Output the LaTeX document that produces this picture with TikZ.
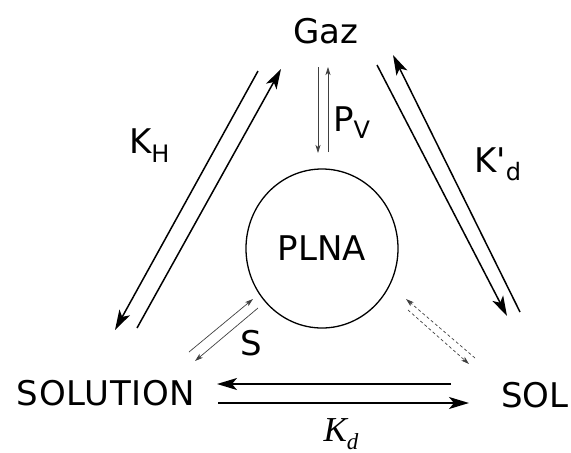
\documentclass[tikz,border=0pt]{standalone}
\usepackage{fontspec}
\newfontfamily\dejavu{DejaVu Sans}
\newfontfamily\kdfont{Liberation Serif}
\usetikzlibrary{arrows.meta,shapes.geometric}
\begin{document}
\begin{tikzpicture}[x=1pt,y=-1pt,
  big/.style={line width=1.5pt, -{Stealth[length=20pt,width=12pt,inset=5pt]}},
  smallarr/.style={line width=0.7pt, draw=black!75, -{Stealth[length=8pt,width=5pt,inset=2pt]}},
  dasharr/.style={smallarr, dash pattern=on 3pt off 2.5pt},
  lbl/.style={font=\dejavu\fontsize{34}{34}\selectfont, inner sep=0pt}]
\useasboundingbox (0,0) rectangle (571,453);
\newcommand{\mysub}[2]{\raisebox{-#1}{\fontsize{24}{24}\selectfont #2}}
% main nodes
\node[lbl, anchor=base] (gaz) at (326,43) {Gaz};
\node[lbl, anchor=base] (solution) at (106,405) {\addfontfeature{LetterSpace=2}SOLUTION};
\node[lbl, anchor=base] (sol) at (535,407) {SOL};
\node[draw, ellipse, line width=1.3pt, minimum width=152pt, minimum height=159pt,
      font=\dejavu\fontsize{34}{34}\selectfont, inner sep=0pt] (plna) at (322,248.5) {PLNA};
% labels
\node[lbl, anchor=base west] (kh) at (129,153) {K\mysub{9pt}{H}};
\node[lbl, anchor=base west] (pv) at (333,131) {P\mysub{7pt}{V}};
\node[lbl, anchor=base west] (kpd) at (474,172) {K'\mysub{8pt}{d}};
\node[lbl, anchor=base west] (s) at (240,355) {S};
\node[inner sep=0pt, anchor=base, font=\kdfont\itshape\fontsize{35}{35}\selectfont] (kd) at (341,441) {K\raisebox{-8pt}{\fontsize{23}{23}\selectfont d}};
% connector end points
\coordinate (a1s) at (258,71);  \coordinate (a1e) at (115,330);
\coordinate (a2s) at (137,328); \coordinate (a2e) at (281,69);
\coordinate (b1s) at (377,65);  \coordinate (b1e) at (507,316);
\coordinate (b2s) at (520,312); \coordinate (b2e) at (393,55);
\coordinate (c1s) at (318,67);  \coordinate (c1e) at (318,153);
\coordinate (c2s) at (328,152); \coordinate (c2e) at (328,67);
\coordinate (d1s) at (189,352); \coordinate (d1e) at (253,299);
\coordinate (d2s) at (258,308); \coordinate (d2e) at (195,361);
\coordinate (e1s) at (475,358); \coordinate (e1e) at (406,299);
\coordinate (e2s) at (408,310); \coordinate (e2e) at (469,364);
\coordinate (f1s) at (451,384); \coordinate (f1e) at (217,384);
\coordinate (f2s) at (218,403); \coordinate (f2e) at (469,403);
% connectors
\draw[big] (a1s) -- (a1e);
\draw[big] (a2s) -- (a2e);
\draw[big] (b1s) -- (b1e);
\draw[big] (b2s) -- (b2e);
\draw[smallarr] (c1s) -- (c1e);
\draw[smallarr] (c2s) -- (c2e);
\draw[smallarr] (d1s) -- (d1e);
\draw[smallarr] (d2s) -- (d2e);
\draw[dasharr] (e1s) -- (e1e);
\draw[dasharr] (e2s) -- (e2e);
\draw[big] (f1s) -- (f1e);
\draw[big] (f2s) -- (f2e);
\end{tikzpicture}
\end{document}
